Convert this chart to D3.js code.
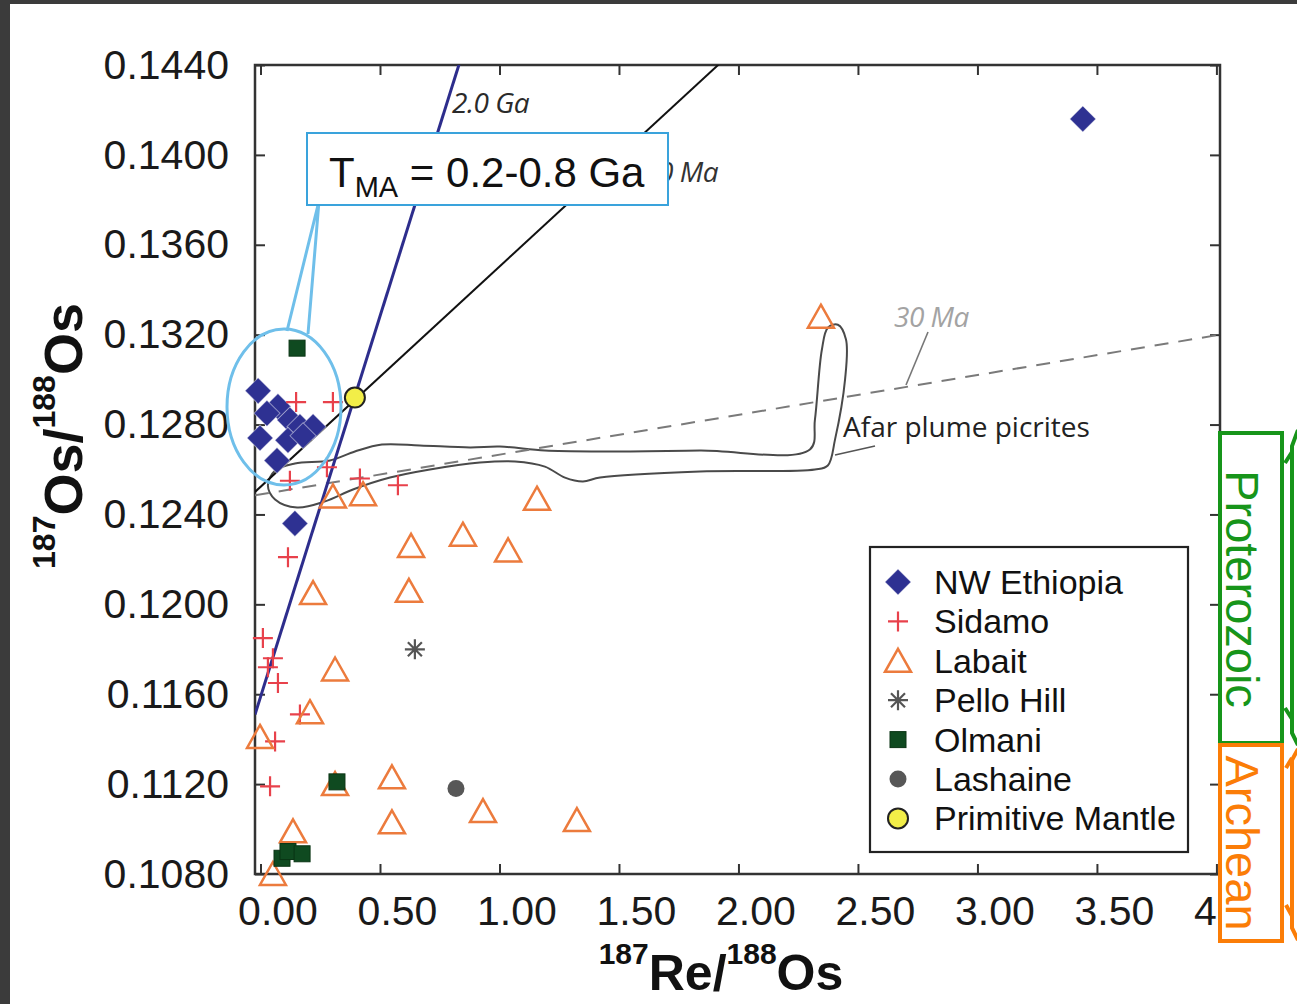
<!DOCTYPE html>
<html>
<head>
<meta charset="utf-8">
<script src="https://cdn.jsdelivr.net/npm/d3@7"></script>
<style>
  html, body { margin: 0; padding: 0; background: #3b3b3b; }
  svg { display: block; }
  text { font-family: "Liberation Sans", Arial, sans-serif; }
  .note { font-family: "Open Sans", "Noto Sans", sans-serif; }
</style>
</head>
<body>
<div id="chart"></div>
<script>
// tick values
const xTicks = [0, 0.5, 1.0, 1.5, 2.0, 2.5, 3.0, 3.5, 4.0];
const yTicks = [0.108, 0.112, 0.116, 0.120, 0.124, 0.128, 0.132, 0.136, 0.140, 0.144];

// samples [187Re/188Os, 187Os/188Os]
const nwEthiopia = [
  [-0.010, 0.1295], [0.073, 0.1288], [0.027, 0.1285], [0.123, 0.1282], [0.165, 0.1279],
  [0.220, 0.1279], [-0.002, 0.1274], [0.115, 0.1273], [0.178, 0.1275], [0.069, 0.1264],
  [0.144, 0.1236], [3.441, 0.1416]
];
const sidamo = [
  [0.149, 0.1290], [0.303, 0.1290], [0.278, 0.1261], [0.123, 0.1255], [0.416, 0.1256],
  [0.575, 0.1253], [0.115, 0.1221], [0.010, 0.1185], [0.052, 0.1176], [0.031, 0.1172],
  [0.073, 0.1165], [0.165, 0.1151], [0.061, 0.1139], [0.040, 0.1119]
];
const labait = [
  [2.345, 0.1328], [0.303, 0.1248], [0.429, 0.1249], [1.157, 0.1247], [0.630, 0.1226],
  [0.847, 0.1231], [1.036, 0.1224], [0.621, 0.1206], [0.220, 0.1205], [0.312, 0.1171],
  [0.207, 0.1152], [-0.002, 0.1141], [0.312, 0.1120], [0.550, 0.1123], [0.931, 0.1108],
  [1.324, 0.1104], [0.550, 0.1103], [0.136, 0.1099], [0.052, 0.1080]
];
const pelloHill = [[0.646, 0.1180]];
const olmani = [[0.153, 0.1314], [0.320, 0.1121], [0.090, 0.1087], [0.115, 0.1090], [0.174, 0.1089]];
const lashaine = [[0.818, 0.1118]];
const primitiveMantle = [[0.395, 0.1292]];

// reference lines
const isochron2Ga = [[-0.023, 0.1151], [0.833, 0.1441]];
const isochron500Ma = [[-0.023, 0.1250], [1.925, 0.1441]];
const ref30Ma = [[-0.023, 0.12485], [4.015, 0.1320]];

// Afar plume picrites field (hand traced)
const afarOutline = [
  [0.031, 0.12529], [0.061, 0.12596], [0.144, 0.12627], [0.291, 0.1264], [0.395, 0.1268],
  [0.508, 0.12711], [0.667, 0.12707], [0.877, 0.12698], [1.002, 0.12702], [1.190, 0.12684],
  [1.421, 0.1268], [1.839, 0.12684], [2.299, 0.12689], [2.320, 0.12822], [2.349, 0.13133],
  [2.374, 0.13231], [2.416, 0.13244], [2.450, 0.13178], [2.446, 0.1300], [2.404, 0.12733],
  [2.374, 0.12618], [2.320, 0.1260], [1.839, 0.12591], [1.421, 0.12564], [1.349, 0.12547],
  [1.274, 0.12564], [1.190, 0.12613], [1.065, 0.12636], [0.918, 0.12631], [0.709, 0.1260],
  [0.542, 0.12564], [0.387, 0.12511], [0.270, 0.12458], [0.153, 0.12431], [0.061, 0.12467]
];

const legendNames = ["NW Ethiopia", "Sidamo", "Labait", "Pello Hill", "Olmani", "Lashaine", "Primitive Mantle"];

const W = 1297, H = 1004;
const plot = { left: 255, right: 1220, top: 65, bottom: 874 };

const svg = d3.select("#chart").append("svg")
  .attr("width", W).attr("height", H);

// white sheet on dark frame
svg.append("rect").attr("x", 10).attr("y", 4).attr("width", W - 10).attr("height", H - 4).attr("fill", "#fff");

const x = d3.scaleLinear().domain([-0.023, 4.015]).range([plot.left, plot.right]);
const y = d3.scaleLinear().domain([0.108, 0.144]).range([plot.bottom, plot.top]);

svg.append("defs").append("clipPath").attr("id", "clip")
  .append("rect")
  .attr("x", plot.left).attr("y", plot.top)
  .attr("width", plot.right - plot.left).attr("height", plot.bottom - plot.top);

// axes, ticks pointing inward on all sides
const axisColor = "#333";
const gx = svg.append("g").attr("transform", `translate(0,${plot.bottom})`)
  .call(d3.axisBottom(x).tickValues(xTicks).tickSizeInner(-10).tickSizeOuter(0).tickPadding(22)
    .tickFormat(d => d.toFixed(2)));
gx.selectAll("text").attr("dx", 17).attr("font-size", 41).attr("fill", "#1a1a1a")
  .attr("font-family", "Liberation Sans, Arial, sans-serif");

const gy = svg.append("g").attr("transform", `translate(${plot.left},0)`)
  .call(d3.axisLeft(y).tickValues(yTicks).tickSizeInner(-10).tickSizeOuter(0).tickPadding(26)
    .tickFormat(d => d.toFixed(4)));
gy.selectAll("text").attr("font-size", 41).attr("fill", "#1a1a1a")
  .attr("font-family", "Liberation Sans, Arial, sans-serif");

svg.append("g").attr("transform", `translate(0,${plot.top})`)
  .call(d3.axisTop(x).tickValues(xTicks).tickSizeInner(-10).tickSizeOuter(0).tickFormat(""));
svg.append("g").attr("transform", `translate(${plot.right},0)`)
  .call(d3.axisRight(y).tickValues(yTicks).tickSizeInner(-10).tickSizeOuter(0).tickFormat(""));

svg.selectAll(".domain").remove();
svg.selectAll(".tick line").attr("stroke", axisColor).attr("stroke-width", 2);

svg.append("rect")
  .attr("x", plot.left).attr("y", plot.top)
  .attr("width", plot.right - plot.left).attr("height", plot.bottom - plot.top)
  .attr("fill", "none").attr("stroke", axisColor).attr("stroke-width", 2.5);

// axis titles
const xt = svg.append("text").attr("x", 721).attr("y", 990)
  .attr("text-anchor", "middle").attr("font-weight", "bold").attr("fill", "#111");
xt.append("tspan").attr("font-size", 30).attr("dy", -26).text("187");
xt.append("tspan").attr("font-size", 50).attr("dy", 26).text("Re/");
xt.append("tspan").attr("font-size", 30).attr("dy", -26).text("188");
xt.append("tspan").attr("font-size", 50).attr("dy", 26).text("Os");

const yt = svg.append("text").attr("transform", "translate(82,436) rotate(-90)")
  .attr("text-anchor", "middle").attr("font-weight", "bold").attr("fill", "#111");
yt.append("tspan").attr("font-size", 32).attr("dy", -27).text("187");
yt.append("tspan").attr("font-size", 54).attr("dy", 27).text("Os/");
yt.append("tspan").attr("font-size", 32).attr("dy", -27).text("188");
yt.append("tspan").attr("font-size", 54).attr("dy", 27).text("Os");

// reference lines
const line = d3.line().x(d => x(d[0])).y(d => y(d[1]));
const lines = svg.append("g").attr("clip-path", "url(#clip)");

lines.append("path").datum(afarOutline)
  .attr("d", d3.line().x(d => x(d[0])).y(d => y(d[1])).curve(d3.curveCatmullRomClosed.alpha(0.5)))
  .attr("fill", "none").attr("stroke", "#4a4a4a").attr("stroke-width", 2);

lines.append("path").datum(ref30Ma).attr("d", line)
  .attr("fill", "none").attr("stroke", "#7a7a7a").attr("stroke-width", 2)
  .attr("stroke-dasharray", "14,10");

lines.append("path").datum(isochron500Ma).attr("d", line)
  .attr("fill", "none").attr("stroke", "#111").attr("stroke-width", 2);

lines.append("path").datum(isochron2Ga).attr("d", line)
  .attr("fill", "none").attr("stroke", "#2d2d8c").attr("stroke-width", 3);

// line labels
svg.append("text").attr("class", "note").attr("x", 452).attr("y", 113)
  .attr("font-size", 28).attr("font-style", "italic").attr("fill", "#2a2a2a")
  .attr("letter-spacing", -0.5).text("2.0 Ga");
svg.append("text").attr("class", "note").attr("x", 718).attr("y", 182)
  .attr("text-anchor", "end").attr("font-size", 28).attr("font-style", "italic").attr("fill", "#333")
  .attr("letter-spacing", -0.5).text("500 Ma");
svg.append("text").attr("class", "note").attr("x", 894).attr("y", 327)
  .attr("font-size", 28).attr("font-style", "italic").attr("fill", "#a3a3a3")
  .attr("letter-spacing", -0.5).text("30 Ma");
svg.append("line").attr("x1", 928).attr("y1", 332).attr("x2", 906).attr("y2", 385)
  .attr("stroke", "#777").attr("stroke-width", 1.6);
svg.append("text").attr("class", "note").attr("x", 843).attr("y", 437)
  .attr("font-size", 28).attr("fill", "#222").text("Afar plume picrites");
svg.append("line").attr("x1", 835).attr("y1", 455).attr("x2", 875).attr("y2", 446)
  .attr("stroke", "#555").attr("stroke-width", 1.6);

// marker painters
const colors = {
  eth: "#2e3192", sid: "#e8414b", lab: "#ec7b3d", pello: "#555",
  olm: "#0f4a20", lash: "#575757", pm: "#f2ee48"
};
const diamond = d3.symbol(d3.symbolSquare, 340)();
const triPath = "M0,-12L13,11L-13,11Z";
const plusPath = "M-10,0H10M0,-10V10";
const starPath = "M-10,0H10M0,-10V10M-7,-7L7,7M-7,7L7,-7";

function drawMarker(g, key) {
  if (key === "eth") {
    g.append("path").attr("d", diamond).attr("transform", "rotate(45)")
      .attr("fill", colors.eth).attr("stroke", "rgba(255,255,255,0.45)").attr("stroke-width", 1);
  } else if (key === "sid") {
    g.append("path").attr("d", plusPath).attr("stroke", colors.sid).attr("stroke-width", 2.2).attr("fill", "none");
  } else if (key === "lab") {
    g.append("path").attr("d", triPath).attr("stroke", colors.lab).attr("stroke-width", 2.5).attr("fill", "none");
  } else if (key === "pello") {
    g.append("path").attr("d", starPath).attr("stroke", colors.pello).attr("stroke-width", 2.2).attr("fill", "none");
  } else if (key === "olm") {
    g.append("rect").attr("x", -8).attr("y", -8).attr("width", 16).attr("height", 16)
      .attr("fill", colors.olm).attr("stroke", "#0a3514").attr("stroke-width", 1);
  } else if (key === "lash") {
    g.append("circle").attr("r", 8.5).attr("fill", colors.lash);
  } else if (key === "pm") {
    g.append("circle").attr("r", 10).attr("fill", colors.pm).attr("stroke", "#222").attr("stroke-width", 2);
  }
}

const series = [
  ["eth", nwEthiopia], ["sid", sidamo], ["lab", labait], ["pello", pelloHill],
  ["olm", olmani], ["lash", lashaine], ["pm", primitiveMantle]
];
const pts = svg.append("g");
series.forEach(([key, data]) => {
  pts.selectAll(`g.${key}`).data(data).enter().append("g")
    .attr("class", key)
    .attr("transform", d => `translate(${x(d[0])},${y(d[1])})`)
    .each(function() { drawMarker(d3.select(this), key); });
});

// legend
const lg = svg.append("g");
lg.append("rect").attr("x", 870).attr("y", 547).attr("width", 318).attr("height", 305)
  .attr("fill", "#fff").attr("stroke", "#222").attr("stroke-width", 2.2);
series.forEach(([key], i) => {
  const cy = 582 + i * 39.4;
  const row = lg.append("g").attr("transform", `translate(898,${cy})`);
  drawMarker(row, key);
  lg.append("text").attr("x", 934).attr("y", cy + 12).attr("font-size", 34)
    .attr("fill", "#111").text(legendNames[i]);
});

// callout around the NW Ethiopia cluster
const callColor = "#6fbfea";
svg.append("ellipse").attr("cx", 284).attr("cy", 407).attr("rx", 57).attr("ry", 78)
  .attr("fill", "none").attr("stroke", callColor).attr("stroke-width", 3);
svg.append("path").attr("d", "M287,331L319,201L308,334")
  .attr("fill", "none").attr("stroke", callColor).attr("stroke-width", 3);
svg.append("rect").attr("x", 307).attr("y", 133).attr("width", 361).attr("height", 72)
  .attr("fill", "#fff").attr("stroke", "#3aa3dc").attr("stroke-width", 2);
const tma = svg.append("text").attr("x", 329).attr("y", 187).attr("fill", "#111")
  .style("white-space", "pre");
tma.append("tspan").attr("font-size", 42).text("T");
tma.append("tspan").attr("font-size", 29).attr("dy", 10).text("MA");
tma.append("tspan").attr("font-size", 42).attr("dy", -10).text(" = 0.2-0.8 Ga");

// era brackets on the right
const green = "#17951a", orange = "#fb7d07";
svg.append("rect").attr("x", 1220).attr("y", 433).attr("width", 62).attr("height", 310)
  .attr("fill", "#fff").attr("stroke", green).attr("stroke-width", 4);
svg.append("rect").attr("x", 1220).attr("y", 745).attr("width", 62).attr("height", 196)
  .attr("fill", "#fff").attr("stroke", orange).attr("stroke-width", 4);
svg.append("text").attr("transform", "translate(1226,589) rotate(90)")
  .attr("text-anchor", "middle").attr("font-size", 47).attr("fill", green).text("Proterozoic");
svg.append("text").attr("transform", "translate(1226,843) rotate(90)")
  .attr("text-anchor", "middle").attr("font-size", 47).attr("fill", orange).text("Archean");
svg.append("path").attr("d", "M1298,430L1292,446L1292,733L1298,745M1285,463L1292,452M1285,708L1292,719")
  .attr("fill", "none").attr("stroke", green).attr("stroke-width", 4);
svg.append("path").attr("d", "M1298,749L1292,760L1292,928L1298,940M1286,768L1292,758M1286,905L1292,916")
  .attr("fill", "none").attr("stroke", orange).attr("stroke-width", 4);
</script>
</body>
</html>
